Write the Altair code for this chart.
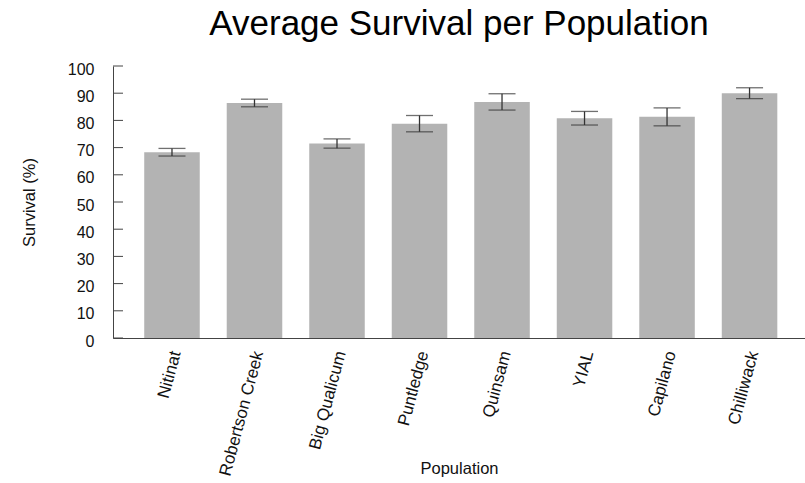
import altair as alt
import pandas as pd

populations = ["Nitinat", "Robertson Creek", "Big Qualicum", "Puntledge",
               "Quinsam", "YIAL", "Capilano", "Chilliwack"]
survival_mean = [68.3, 86.4, 71.5, 78.8, 86.8, 80.8, 81.3, 90.0]
survival_se = [1.4, 1.4, 1.7, 3.0, 3.0, 2.5, 3.3, 2.0]
y_ticks = [0, 10, 20, 30, 40, 50, 60, 70, 80, 90, 100]

df = pd.DataFrame({
    "Population": populations,
    "Survival": survival_mean,
    "lo": [m - s for m, s in zip(survival_mean, survival_se)],
    "hi": [m + s for m, s in zip(survival_mean, survival_se)],
})
ticks_df = pd.DataFrame({"t": y_ticks})

FONT = "Liberation Sans"
AXIS_COLOR = "#444444"

x_axis = alt.Axis(
    title="Population",
    titleFont=FONT, titleFontSize=16.5, titleFontWeight="normal", titleColor="#111111",
    titleY=135, titleBaseline="alphabetic",
    labelAngle=-75, labelAlign="right", labelBaseline="middle",
    labelFont=FONT, labelFontSize=17, labelColor="#111111", labelPadding=13,
    labelOffset=4, ticks=False, grid=False, domainColor=AXIS_COLOR, domainWidth=1,
    labelOverlap=False,
)
x_scale = alt.Scale(paddingInner=0.327, paddingOuter=0.357, align=0.53)
y_scale = alt.Scale(domain=[0, 100], nice=False)
y_axis = alt.Axis(
    title="Survival (%)", values=y_ticks,
    titleFont=FONT, titleFontSize=16.5, titleFontWeight="normal", titleColor="#111111",
    titleX=-79, titleY=136, titleBaseline="alphabetic", titleAngle=-90,
    labelFont=FONT, labelFontSize=16, labelColor="#111111", labelPadding=19,
    labelOffset=3, labelOverlap=False, ticks=False, grid=False,
    domainColor=AXIS_COLOR, domainWidth=1,
)


def xe():
    return alt.X("Population:N", sort=populations, scale=x_scale, axis=x_axis)


def ye(field):
    return alt.Y(field, scale=y_scale, axis=y_axis)


bars = alt.Chart(df).mark_bar(color="#b3b3b3").encode(x=xe(), y=ye("Survival:Q"))

err_line = alt.Chart(df).mark_rule(color="#333333", strokeWidth=1.3).encode(
    x=xe(), y=ye("lo:Q"), y2="hi:Q",
)
cap_lo = alt.Chart(df).mark_tick(color="#333333", size=27, thickness=1.3, orient="horizontal").encode(
    x=xe(), y=ye("lo:Q"),
)
cap_hi = alt.Chart(df).mark_tick(color="#333333", size=27, thickness=1.3, orient="horizontal").encode(
    x=xe(), y=ye("hi:Q"),
)
y_tick_marks = alt.Chart(ticks_df).mark_rule(color=AXIS_COLOR, strokeWidth=1).encode(
    y=ye("t:Q"),
    x=alt.value(0),
    x2=alt.value(10),
)

chart = alt.layer(bars, err_line, cap_lo, cap_hi, y_tick_marks).properties(
    width=692,
    height=272,
    background="white",
    title=alt.TitleParams(
        "Average Survival per Population",
        font=FONT, fontSize=35, fontWeight="normal", color="#000000",
        anchor="middle", frame="group", baseline="alphabetic", offset=-5, dy=4,
    ),
    autosize=alt.AutoSizeParams(type="none"),
    padding={"left": 113, "top": 66, "right": 0, "bottom": 145},
).configure_view(stroke=None).configure_axis(grid=False)

chart.save("out.html", embed_options={"renderer": "svg", "actions": False})
